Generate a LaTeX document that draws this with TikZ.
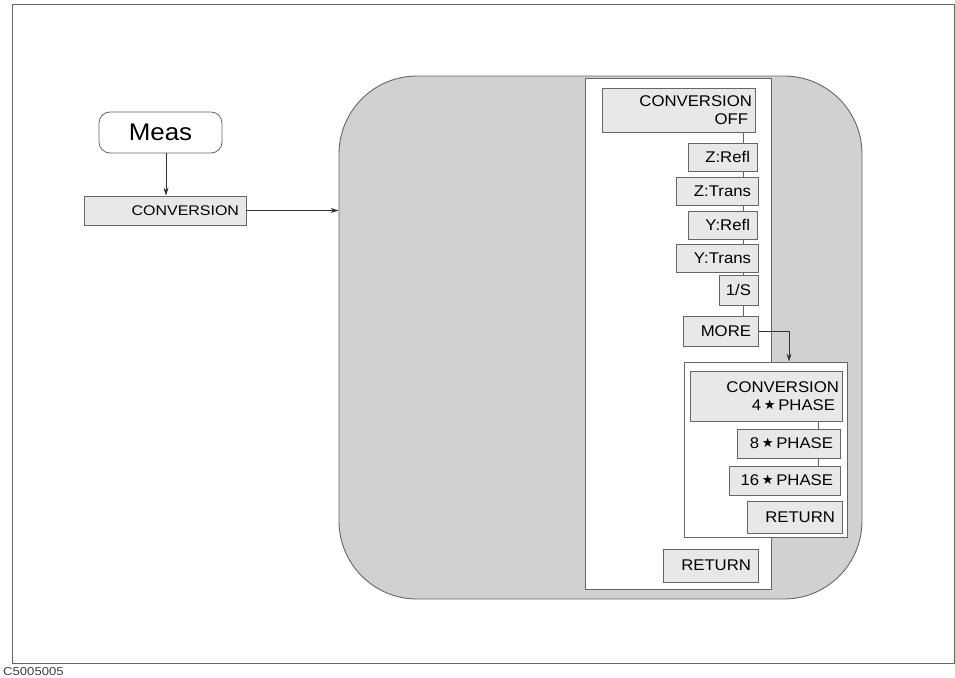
\documentclass[tikz,border=0pt]{standalone}
\usepackage{fontspec}
\setmainfont{Liberation Sans}
\newfontfamily\btnfont[FakeStretch=1.08]{Liberation Sans}
\newfontfamily\widefont[FakeStretch=1.14]{Liberation Sans}
\newfontfamily\starfont{DejaVu Sans}
\usetikzlibrary{arrows.meta}
\definecolor{regionfill}{gray}{0.82}
\definecolor{btnfill}{gray}{0.91}
\definecolor{edgegray}{gray}{0.40}
\newcommand{\stx}{{\starfont\raisebox{0.1ex}{\scalebox{0.85}{★}}}}
\tikzset{
  menubtn/.style={draw=edgegray, fill=btnfill, line width=0.8pt, inner sep=0pt,
    font=\btnfont\fontsize{15.5}{18}\selectfont, align=right},
  panel/.style={draw=edgegray, fill=white, line width=0.9pt, inner sep=0pt},
  link/.style={draw=edgegray, line width=0.7pt},
  arr/.style={draw=black!80, line width=0.7pt, -{Stealth[length=8pt,width=5pt]}},
}
\newcommand{\btxt}[2]{\parbox{#1pt}{\raggedleft #2\hspace*{4pt}}}
\begin{document}
\begin{tikzpicture}[x=1pt,y=-1pt]
\useasboundingbox (0,0) rectangle (955,677);
% outer frame
\draw[draw=edgegray, line width=1pt] (12,5) rectangle (954,663);
\node[anchor=west, font=\widefont\fontsize{11.5}{13}\selectfont, text=black!75, inner sep=0pt] (code) at (3,672) {C5005005};
% big rounded region
\node[draw=edgegray, fill=regionfill, line width=0.9pt, rounded corners=78pt,
  minimum width=523pt, minimum height=523pt, inner sep=0pt] (region) at (600.5,337.5) {};
% white panel
\node[panel, minimum width=186pt, minimum height=511pt] (panelA) at (678,333.5) {};
% left side
\node[draw=edgegray, fill=white, line width=0.8pt, rounded corners=11pt,
  minimum width=123pt, minimum height=41pt, inner sep=0pt,
  font=\btnfont\fontsize{24}{26}\selectfont] (meas) at (160.5,132.5) {Meas};
\node[menubtn, minimum width=162pt, minimum height=29pt, font=\widefont\fontsize{14}{16}\selectfont]
  (conv) at (165,210.5) {\btxt{156}{CONVERSION}};
% menu buttons
\node[menubtn, minimum width=153pt, minimum height=44pt] (convoff) at (678.5,110) {\btxt{147}{CONVERSION\\OFF}};
\node[menubtn, minimum width=69pt, minimum height=28pt] (zrefl) at (722.5,157) {\btxt{63}{Z:Refl}};
\node[menubtn, minimum width=82pt, minimum height=28pt] (ztrans) at (717,191) {\btxt{76}{Z:Trans}};
\node[menubtn, minimum width=69pt, minimum height=28pt] (yrefl) at (722.5,225) {\btxt{63}{Y:Refl}};
\node[menubtn, minimum width=82pt, minimum height=28pt] (ytrans) at (717,258) {\btxt{76}{Y:Trans}};
\node[menubtn, minimum width=39pt, minimum height=30pt] (ones) at (738.5,290) {\btxt{33}{1/S}};
\node[menubtn, minimum width=75pt, minimum height=30pt] (more) at (720.5,331) {\btxt{69}{MORE}};
\node[menubtn, minimum width=95pt, minimum height=33pt] (retA) at (710.5,565.5) {\btxt{89}{RETURN}};
% inner panel
\node[panel, minimum width=163pt, minimum height=175pt] (panelB) at (765.5,449.5) {};
\node[menubtn, minimum width=152pt, minimum height=50pt] (ph4) at (766,396) {\btxt{146}{CONVERSION\\4\,\stx\,PHASE}};
\node[menubtn, minimum width=103pt, minimum height=29pt] (ph8) at (788.5,443.5) {\btxt{97}{8\,\stx\,PHASE}};
\node[menubtn, minimum width=111pt, minimum height=29pt] (ph16) at (784.5,480.5) {\btxt{105}{16\,\stx\,PHASE}};
\node[menubtn, minimum width=95pt, minimum height=32pt] (retB) at (794.5,517) {\btxt{89}{RETURN}};
% spines
\coordinate (spineA) at (743,0);
\coordinate (spineB) at (818,0);
\coordinate (drop) at (789,0);
\draw[link] (convoff.south -| spineA) -- (zrefl.north -| spineA);
\draw[link] (zrefl.south -| spineA) -- (ztrans.north -| spineA);
\draw[link] (ztrans.south -| spineA) -- (yrefl.north -| spineA);
\draw[link] (yrefl.south -| spineA) -- (ytrans.north -| spineA);
\draw[link] (ytrans.south -| spineA) -- (ones.north -| spineA);
\draw[link] (ones.south -| spineA) -- (more.north -| spineA);
\draw[link] (ph4.south -| spineB) -- (ph8.north -| spineB);
\draw[link] (ph8.south -| spineB) -- (ph16.north -| spineB);
% arrows
\draw[arr] (meas.south -| 166,0) -- (conv.north -| 166,0);
\draw[arr] (conv.east) -- (conv.east -| region.west);
\draw[arr] ([xshift=1pt]more.east) -| (panelB.north -| drop);
\end{tikzpicture}
\end{document}
